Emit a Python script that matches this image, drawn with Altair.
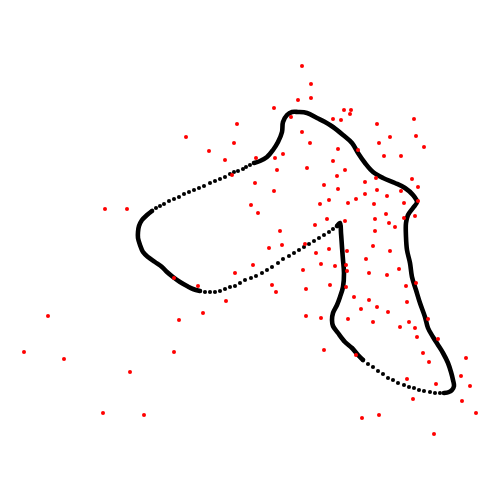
import altair as alt
import pandas as pd

# Red scatter points (x, y in picture units, y grows downward)
red_x = [302, 311, 298, 311, 274, 291, 237, 186, 302, 234, 310, 209, 283, 256, 275, 225, 277, 307, 232, 255,
         274, 324, 344, 351, 350, 333, 341, 414, 377, 416, 390, 379, 424, 338, 358, 384, 401, 333, 345, 337,
         365, 376, 412, 418, 338, 365, 377, 401, 387, 329, 356, 348, 374, 320, 404, 418, 386, 327, 389, 395,
         404, 415, 345, 375, 315, 375, 280, 269, 282, 305, 329, 373, 316, 347, 390, 321, 335, 366, 346, 347,
         303, 369, 387, 399, 272, 276, 306, 330, 346, 406, 416, 354, 369, 361, 377, 388, 407, 306, 321, 348,
         373, 400, 409, 415, 428, 417, 438, 324, 356, 423, 429, 466, 461, 407, 436, 470, 413, 462, 476, 362,
         379, 434, 251, 258, 253, 235, 174, 198, 226, 203, 179, 105, 127, 48, 24, 64, 130, 103, 144, 174]
red_y = [66, 84, 100, 98, 108, 117, 124, 137, 132, 143, 143, 151, 154, 158, 158, 160, 170, 168, 175, 183,
         191, 185, 110, 110, 114, 119, 120, 119, 124, 136, 137, 143, 147, 149, 150, 156, 156, 161, 170, 176,
         182, 178, 179, 187, 189, 194, 190, 191, 196, 200, 199, 203, 204, 204, 203, 201, 214, 219, 223, 227,
         218, 216, 221, 219, 225, 231, 231, 248, 245, 244, 249, 246, 253, 251, 251, 264, 266, 259, 265, 271,
         270, 273, 275, 269, 285, 292, 289, 285, 287, 286, 283, 297, 300, 309, 307, 312, 302, 316, 318, 319,
         322, 327, 322, 328, 319, 337, 339, 350, 355, 353, 362, 358, 376, 379, 384, 386, 399, 401, 413, 418,
         415, 434, 205, 213, 265, 273, 278, 286, 301, 313, 320, 209, 209, 316, 352, 359, 372, 413, 415, 352]

# Black curve: densely dotted parts (drawn as a thick stroke)
dense_a_x = [337, 340, 341, 342, 343, 344, 343, 340, 337, 333, 332, 333, 338, 345, 352, 358, 363]
dense_a_y = [226, 223, 233, 247, 260, 273, 287, 297, 305, 313, 320, 326, 333, 342, 348, 355, 360]

dense_c_x = [444, 449, 452, 454, 453, 451, 448, 443, 438, 433, 428, 425, 420, 416, 412, 410, 407, 406, 406,
             408, 413, 417, 413, 405, 395, 383, 373, 365, 358, 352, 343, 333, 325, 317, 307, 298, 292, 287,
             283, 282, 278, 273, 267, 260, 254]
dense_c_y = [393, 392, 390, 386, 380, 372, 363, 353, 345, 337, 328, 317, 303, 290, 277, 263, 250, 237, 223,
             215, 208, 202, 195, 188, 183, 178, 172, 163, 153, 143, 135, 127, 122, 118, 113, 112, 112, 115,
             122, 132, 142, 150, 157, 161, 163]

dense_e_x = [152, 147, 142, 139, 138, 138, 140, 143, 148, 155, 162, 167, 173, 180, 187, 193, 200]
dense_e_y = [211, 215, 220, 226, 232, 238, 245, 252, 257, 262, 267, 272, 277, 282, 286, 289, 291]

# Black curve: sparsely dotted parts (individual dots)
sparse_b_x = [363, 368, 373, 378, 383, 388, 393, 398, 404, 409, 414, 419, 424, 430, 435, 440, 444]
sparse_b_y = [360, 364, 367, 371, 374, 378, 380, 383, 385, 387, 388, 390, 391, 392, 393, 393, 393]

sparse_d_x = [254, 250, 246, 243, 238, 234, 230, 225, 220, 215, 210, 204, 199, 194, 189, 184, 179, 174,
              169, 164, 160, 156, 152]
sparse_d_y = [163, 165, 167, 169, 171, 172, 174, 177, 179, 181, 183, 186, 188, 190, 192, 194, 197, 199,
              201, 204, 206, 208, 211]

sparse_f_x = [200, 205, 210, 215, 220, 225, 230, 235, 240, 245, 251, 256, 262, 267, 272, 278, 283, 289, 294,
              299, 304, 309, 314, 319, 324, 329, 333, 337]
sparse_f_y = [291, 292, 292, 292, 291, 289, 287, 286, 283, 280, 278, 276, 273, 270, 267, 263, 259, 256, 253,
              250, 247, 244, 241, 238, 235, 232, 229, 226]

dense_rows = []
for seg, xs, ys in [("a", dense_a_x, dense_a_y), ("c", dense_c_x, dense_c_y), ("e", dense_e_x, dense_e_y)]:
    for i, (x, y) in enumerate(zip(xs, ys)):
        dense_rows.append({"seg": seg, "i": i, "x": x, "y": y})
dense_df = pd.DataFrame(dense_rows)

sparse_df = pd.DataFrame({
    "x": sparse_b_x + sparse_d_x + sparse_f_x,
    "y": sparse_b_y + sparse_d_y + sparse_f_y,
})
red_df = pd.DataFrame({"x": red_x, "y": red_y})

xs = alt.Scale(domain=[0, 500], nice=False, zero=False)
ys = alt.Scale(domain=[0, 500], nice=False, zero=False, reverse=True)

X = alt.X("x:Q", scale=xs, axis=None)
Y = alt.Y("y:Q", scale=ys, axis=None)

dense = alt.Chart(dense_df).mark_line(
    color="black", strokeWidth=4.6, interpolate="catmull-rom", strokeCap="round", strokeJoin="round"
).encode(x=X, y=Y, detail="seg:N", order="i:Q")

sparse = alt.Chart(sparse_df).mark_circle(color="black", size=17, opacity=1).encode(x=X, y=Y)

red = alt.Chart(red_df).mark_circle(color="#ff0000", size=16, opacity=1).encode(x=X, y=Y)

chart = alt.layer(dense, sparse, red).properties(
    width=500, height=500, padding=0, background="white",
    autosize=alt.AutoSizeParams(type="none")
).configure_view(stroke=None, strokeWidth=0)

chart.save("out.html", embed_options={"renderer": "svg", "actions": False})
